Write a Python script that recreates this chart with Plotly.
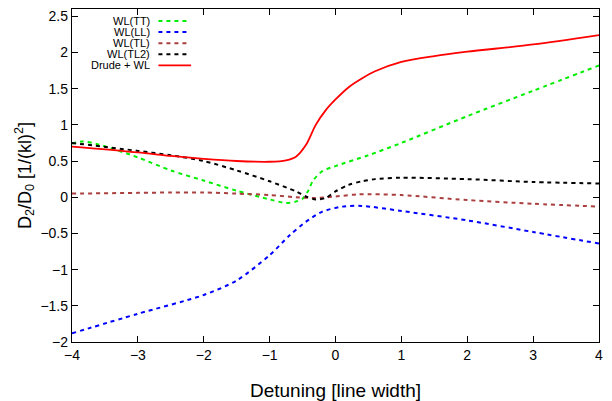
import plotly.graph_objects as go

# ---- data ----
red_x = [-4, -3, -2.5, -2, -1.5, -1, -0.75, -0.6, -0.45, -0.3, -0.15, 0, 0.2, 0.4, 0.6, 1, 1.5, 2, 3, 4]
red_y = [0.70, 0.62, 0.57, 0.53, 0.50, 0.49, 0.51, 0.56, 0.72, 1.00, 1.20, 1.35, 1.52, 1.64, 1.74, 1.87, 1.95, 2.01, 2.11, 2.24]

tt_x = [-4, -3.85, -3.6, -3, -2.5, -2, -1.5, -1, -0.75, -0.6, -0.5, -0.42, -0.34, -0.2, 0, 0.5, 1, 2, 3, 4]
tt_y = [0.74, 0.77, 0.73, 0.55, 0.37, 0.23, 0.09, -0.03, -0.08, -0.06, -0.02, 0.08, 0.23, 0.36, 0.43, 0.58, 0.75, 1.12, 1.47, 1.82]

ll_x = [-4, -3, -2, -1.5, -1, -0.7, -0.45, -0.2, 0.1, 0.4, 1, 2, 3, 4]
ll_y = [-1.88, -1.61, -1.35, -1.15, -0.80, -0.53, -0.34, -0.20, -0.13, -0.12, -0.19, -0.32, -0.48, -0.64]

tl_x = [-4, -3, -2.5, -2, -1.5, -1, -0.6, -0.3, 0, 0.35, 1, 2, 3, 4]
tl_y = [0.05, 0.06, 0.065, 0.065, 0.05, 0.03, 0.0, -0.01, 0.01, 0.04, 0.03, -0.04, -0.09, -0.13]

tl2_x = [-4, -3, -2.5, -2, -1.5, -1, -0.6, -0.45, -0.3, -0.15, 0, 0.2, 0.4, 0.6, 1, 2, 3, 4]
tl2_y = [0.75, 0.64, 0.58, 0.50, 0.37, 0.22, 0.08, 0.01, -0.03, -0.01, 0.08, 0.17, 0.22, 0.25, 0.27, 0.25, 0.21, 0.19]

series_names = ["WL(TT)", "WL(LL)", "WL(TL)", "WL(TL2)", "Drude + WL"]
series_colors = ["#00ee00", "#0000ff", "#aa3f3f", "#000000", "#ff0000"]

x_ticks = [-4, -3, -2, -1, 0, 1, 2, 3, 4]
y_ticks = [-2, -1.5, -1, -0.5, 0, 0.5, 1, 1.5, 2, 2.5]

dash = "4px,4px"
data = [(tt_x, tt_y, dash), (ll_x, ll_y, dash), (tl_x, tl_y, dash), (tl2_x, tl2_y, dash), (red_x, red_y, "solid")]

fig = go.Figure()
for (xs, ys, d), name, col in zip(data, series_names, series_colors):
    fig.add_trace(go.Scatter(x=xs, y=ys, mode="lines", name=name,
                             line=dict(color=col, width=2 if d != "solid" else 1.8, dash=d, shape="spline", smoothing=0.8),
                             showlegend=False))

# manual gnuplot-style legend (text right-aligned, sample on the right)
leg_y = [0.964, 0.9306, 0.8973, 0.8640, 0.8306]
for name, col, yy, (_, _, d) in zip(series_names, series_colors, leg_y, data):
    fig.add_annotation(x=0.149, y=yy, xref="paper", yref="paper", text=name, showarrow=False,
                       xanchor="right", yanchor="middle", borderpad=0, font=dict(size=11, color="black"))
    fig.add_shape(type="line", xref="paper", yref="paper", x0=0.164, x1=0.222 if d != "solid" else 0.226,
                  y0=yy, y1=yy, line=dict(color=col, width=2 if d != "solid" else 1.8, dash=d))

axis_common = dict(showline=True, linecolor="black", linewidth=1.3, mirror="allticks",
                   ticks="inside", ticklen=6, tickcolor="black", tickwidth=1, automargin=False,
                   showgrid=False, zeroline=False, tickfont=dict(size=14, color="black"))

fig.update_xaxes(range=[-4, 4], tickvals=x_ticks, ticktext=[f"{v:g}".replace("-", "\u2212") for v in x_ticks],
                 title=dict(text="Detuning [line width]", font=dict(size=19, color="black"), standoff=21),
                 **axis_common)
fig.update_yaxes(range=[-2, 2.6], tickvals=y_ticks, ticktext=[f"{v:g}".replace("-", "\u2212") for v in y_ticks],
                 title=dict(text="D<sub>2</sub>/D<sub>0</sub> [1/(kl)<sup>2</sup>]", font=dict(size=18, color="black"), standoff=4),
                 **axis_common)

# the page body has an 8px margin, so the figure is 8px smaller and shifted
fig.update_layout(width=604, height=393, margin=dict(l=64, r=13, t=1, b=59),
                  plot_bgcolor="white", paper_bgcolor="white",
                  font=dict(family="Liberation Sans, Arial, sans-serif", color="black"))

fig.write_html("out.html")
